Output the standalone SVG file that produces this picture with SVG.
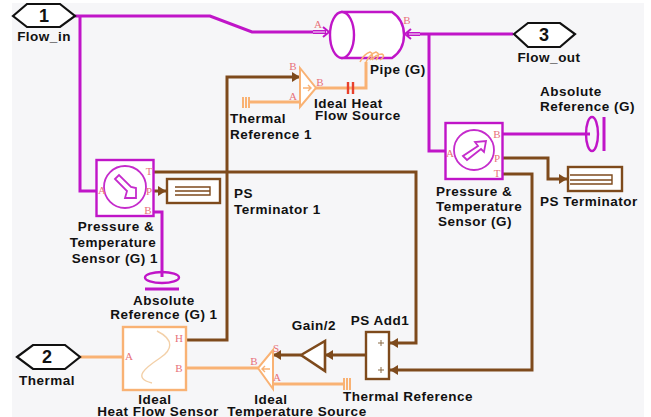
<svg xmlns="http://www.w3.org/2000/svg" width="651" height="417" viewBox="0 0 651 417">
<defs>
<style>
text{font-family:"Liberation Sans",Arial,sans-serif;font-weight:bold;font-size:13.5px;fill:#111;letter-spacing:.5px}
.c{text-anchor:middle}
.p{font-family:"Liberation Serif",serif;font-weight:normal;font-size:11px;fill:#e8727a;letter-spacing:0;text-anchor:middle}
.m{fill:none;stroke:#c015c8;stroke-width:3}
.mt{fill:none;stroke:#c52ccc;stroke-width:1.8}
.b{fill:none;stroke:#7e4a1c;stroke-width:3}
.o{fill:none;stroke:#f9b274;stroke-width:3}
.hex{fill:#fff;stroke:#111;stroke-width:2.2}
.n{font-size:18px;letter-spacing:0}
</style>
<marker id="ab" markerUnits="userSpaceOnUse" markerWidth="9" markerHeight="10" refX="8" refY="5" orient="auto"><path d="M0 0L8 5L0 10Z" fill="#7e4a1c"/></marker>
</defs>
<rect width="651" height="417" fill="#fff"/>
<rect x="12" y="3" width="632" height="414" fill="#f6f6f8"/>
<g id="connectors">
<path class="m" d="M75 16H210L252 32H314"/>
<path class="m" d="M80 16V191H97"/>
<path d="M313 32H326" stroke="#c015c8" stroke-width="4" fill="none"/><path d="M313 32H325" stroke="#e9b6ec" stroke-width="1.4" fill="none"/>
<path d="M323 27L329 32L323 37" fill="none" stroke="#c015c8" stroke-width="2"/>
<path class="m" d="M418 34H513"/>
<path d="M407 34H420" stroke="#c015c8" stroke-width="4" fill="none"/><path d="M409 34H420" stroke="#e9b6ec" stroke-width="1.4" fill="none"/>
<path d="M411 29L405 34L411 39" fill="none" stroke="#c015c8" stroke-width="2"/>
<path class="m" d="M429 34V151H445"/>
<path class="m" d="M503 134H590"/>
<path class="m" d="M154 212H162V277"/>
<path class="b" d="M154 172H416V343H390" marker-end="url(#ab)"/>
<path class="b" d="M503 174H532V370H390" marker-end="url(#ab)"/>
<path class="b" d="M503 158H548V179H567" marker-end="url(#ab)"/>
<path class="b" d="M154 191H166" marker-end="url(#ab)"/>
<path class="b" d="M186 340H227V77H300" marker-end="url(#ab)"/>
<path class="b" d="M366 355H325" marker-end="url(#ab)"/>
<path class="b" d="M301 355H273" marker-end="url(#ab)"/>
<path class="o" d="M80 357H123"/>
<path class="o" d="M186 368H258"/>
<path class="o" d="M273 384H345"/>
<path class="o" d="M248 102H300"/>
<path class="o" d="M316 88H366V62"/>
</g>
<g id="in1"><polygon class="hex" points="13,16 27,4 60,4 75,16 60,27 27,27"/><text class="c n" x="44" y="22">1</text><text class="c" x="44" y="41">Flow_in</text></g>
<g id="out3"><polygon class="hex" points="514,34 528,23 560,23 575,34 560,47 528,47"/><text class="c n" x="544" y="41">3</text><text class="c" x="549" y="62">Flow_out</text></g>
<g id="in2"><polygon class="hex" points="17,357 33,345 65,345 80,357 65,369 33,369"/><text class="c n" x="47" y="363">2</text><text class="c" x="47" y="385">Thermal</text></g>
<g id="pipe">
<path d="M342 12H392Q404 20 404 35Q404 50 392 58H342Z" fill="#fff" stroke="#c015c8" stroke-width="2.4"/>
<ellipse cx="342" cy="35" rx="12" ry="23" fill="#fff" stroke="#c015c8" stroke-width="2.4"/>
<path d="M360 62Q364 54 370 52Q375 54 370 60M366 62Q370 54 376 52Q381 54 376 60M372 60Q376 54 382 54Q386 56 380 60" fill="none" stroke="#f9b274" stroke-width="1.500"/>
<text class="p" x="318" y="28">A</text><text class="p" x="407" y="24">B</text>
<text x="370" y="74">Pipe (G)</text>
</g>
<g id="heat-flow-source">
<polygon points="300,68 316,88 300,107" fill="#fff" stroke="#f9b274" stroke-width="2"/>
<path d="M303 88H311M308 85L311 88L308 91" fill="none" stroke="#f9b274" stroke-width="1.400"/>
<path d="M348 82V94M353 82V94" stroke="#e8412c" stroke-width="2.400" fill="none"/>
<text class="p" x="293" y="70">B</text><text class="p" x="320" y="86">B</text><text class="p" x="293" y="100">A</text>
<text x="314" y="108">Ideal Heat</text><text x="315" y="120">Flow Source</text>
</g>
<g id="thermal-ref-1">
<path d="M243 97V108M246 97V108M249 97V108" stroke="#f9b274" stroke-width="2" fill="none"/>
<text x="230" y="123">Thermal</text><text x="230" y="139">Reference 1</text>
</g>
<g id="sensor-1">
<rect x="96.500" y="160" width="57" height="56" fill="#fff" stroke="#c015c8" stroke-width="2.400"/>
<circle cx="125" cy="187" r="21" class="mt"/>
<path d="M115 179L119 175L131 187L136 188L136 198L125 198L127 191Z" class="mt"/>
<text class="p" x="102" y="194">A</text><text class="p" x="149" y="175">T</text><text class="p" x="149" y="195">P</text><text class="p" x="148" y="214">B</text>
<text class="c" x="116" y="231">Pressure &amp;</text><text class="c" x="113" y="247">Temperature</text><text class="c" x="115" y="263">Sensor (G) 1</text>
</g>
<g id="ps-terminator-1">
<rect x="167" y="179" width="53" height="24" fill="#fff" stroke="#7e4a1c" stroke-width="2.400"/>
<path d="M175 187H210V195H175M175 191H210" fill="none" stroke="#7e4a1c" stroke-width="1.400"/>
<text x="234" y="198">PS</text><text x="234" y="214">Terminator 1</text>
</g>
<g id="abs-ref-1">
<ellipse cx="162" cy="277.500" rx="17" ry="5.500" fill="none" stroke="#c015c8" stroke-width="2.400"/>
<path d="M145 289H179" stroke="#c015c8" stroke-width="3" fill="none"/>
<text class="c" x="164" y="305">Absolute</text><text class="c" x="164" y="319">Reference (G) 1</text>
</g>
<g id="sensor-2">
<rect x="445.500" y="123" width="57" height="56" fill="#fff" stroke="#c015c8" stroke-width="2.400"/>
<circle cx="474" cy="150" r="20" class="mt"/>
<path d="M463 156L467 160L481 149L484 152L486 141L475 142L478 146Z" class="mt"/>
<text class="p" x="450" y="157">A</text><text class="p" x="497" y="138">B</text><text class="p" x="497" y="162">P</text><text class="p" x="497" y="177">T</text>
<text x="436" y="196">Pressure &amp;</text><text x="436" y="211">Temperature</text><text x="438" y="226">Sensor (G)</text>
</g>
<g id="abs-ref-2">
<ellipse cx="592" cy="134" rx="6" ry="17" fill="none" stroke="#c015c8" stroke-width="2.400"/>
<path d="M604 117V151" stroke="#c015c8" stroke-width="3" fill="none"/>
<text x="540" y="96">Absolute</text><text x="540" y="111">Reference (G)</text>
</g>
<g id="ps-terminator">
<rect x="568" y="167" width="54" height="24" fill="#fff" stroke="#7e4a1c" stroke-width="2.400"/>
<path d="M570 175H612V184H570M570 180H612" fill="none" stroke="#7e4a1c" stroke-width="1.400"/>
<text x="540" y="206">PS Terminator</text>
</g>
<g id="heat-flow-sensor">
<rect x="123" y="327" width="63" height="63" fill="#fff" stroke="#f9b274" stroke-width="2.400"/>
<path d="M157 331C175 340 172 350 160 358C145 368 132 378 152 383" fill="none" stroke="#f3d0a8" stroke-width="1.400"/>
<text class="p" x="129" y="360">A</text><text class="p" x="179" y="342">H</text><text class="p" x="179" y="372">B</text>
<text class="c" x="155" y="404">Ideal</text><text class="c" x="158" y="416">Heat Flow Sensor</text>
</g>
<g id="temp-source">
<polygon points="273,350 258,368 273,389" fill="#fff" stroke="#f9b274" stroke-width="2"/>
<path d="M270 369H262M265 366L262 369L265 372" fill="none" stroke="#f9b274" stroke-width="1.400"/>
<text class="p" x="276" y="352">S</text><text class="p" x="254" y="365">B</text><text class="p" x="277" y="381">A</text>
<text class="c" x="271" y="404">Ideal</text><text class="c" x="297" y="416">Temperature Source</text>
</g>
<g id="thermal-ref">
<path d="M344 378V390M347 378V390M350 378V390" stroke="#f9b274" stroke-width="2" fill="none"/>
<text x="343" y="401">Thermal Reference</text>
</g>
<g id="gain">
<polygon points="301,355 325,341 325,371" fill="#fff" stroke="#7e4a1c" stroke-width="2.600"/>
<text class="c" x="314" y="330">Gain/2</text>
</g>
<g id="ps-add">
<rect x="366" y="332" width="23" height="47" fill="#fff" stroke="#7e4a1c" stroke-width="2.400"/>
<path d="M378 343H384M381 340V346M378 370H384M381 367V373" stroke="#8a6a44" stroke-width="1" fill="none"/>
<text class="c" x="380" y="325">PS Add1</text>
</g>
</svg>
